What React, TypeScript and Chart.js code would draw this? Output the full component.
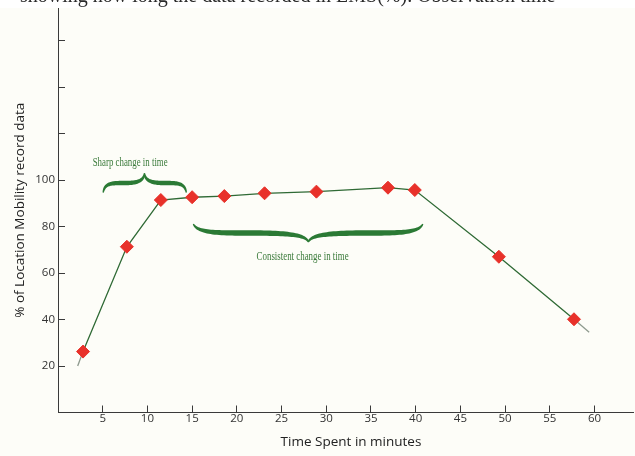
import React, { useEffect, useRef } from 'react';
import { Chart, registerables } from 'chart.js';

Chart.register(...registerables);

// ---- Data ----
const timeMinutes = [2.8, 7.7, 11.5, 15.0, 18.6, 23.1, 28.9, 36.9, 39.9, 49.3, 57.7];
const mobilityPct = [26.2, 71.3, 91.4, 92.6, 93.1, 94.3, 95.0, 96.7, 95.7, 67.0, 40.1];
const trendStart = { x: 2.2, y: 20 };
const trendEnd = { x: 59.4, y: 34.5 };

const xTickLabels = [5, 10, 15, 20, 25, 30, 35, 40, 45, 50, 55, 60];
const yTickLabels = [20, 40, 60, 80, 100];

const xTitle = 'Time Spent in minutes';
const yTitle = '% of Location Mobility record data';
const sharpText = 'Sharp change in time';
const consistentText = 'Consistent change in time';
const captionText = 'showing how long the data recorded in LMS(%). Observation time';

// annotation braces (data units)
const sharpBrace = { x1: 5.05, x2: 14.35, xMid: 9.67, yTip: 94.6, yArm: 98.7, yPeak: 102.9, label: sharpText, lx: 8.07, ly: 107.2, lw: 75 };
const consistentBrace = { x1: 15.13, x2: 40.8, xMid: 28.0, yTip: 81.1, yArm: 77.2, yPeak: 73.3, label: consistentText, lx: 27.35, ly: 66.9, lw: 92 };

const FONT = '"Open Sans", "Noto Sans", sans-serif';

function cubicPt(p0: number[], p1: number[], p2: number[], p3: number[], t: number) {
  const u = 1 - t;
  return [
    u * u * u * p0[0] + 3 * u * u * t * p1[0] + 3 * u * t * t * p2[0] + t * t * t * p3[0],
    u * u * u * p0[1] + 3 * u * u * t * p1[1] + 3 * u * t * t * p2[1] + t * t * t * p3[1],
  ];
}

function halfBrace(xTip: number, xm: number, yTip: number, yArm: number, yPeak: number) {
  const w = xm - xTip;
  const pts: number[][] = [];
  const mid = [xTip + 0.5 * w, yArm];
  const N = 30;
  for (let i = 0; i <= N; i++) {
    pts.push(cubicPt([xTip, yTip], [xTip + 0.04 * w, yArm], [xTip + 0.2 * w, yArm], mid, i / N));
  }
  for (let i = 1; i <= N; i++) {
    pts.push(cubicPt(mid, [xm - 0.2 * w, yArm], [xm - 0.02 * w, yArm + (yPeak - yArm) * 0.15], [xm, yPeak], i / N));
  }
  return pts;
}

function fillTapered(ctx: CanvasRenderingContext2D, pts: number[][], tMax: number, tMin: number) {
  const n = pts.length;
  const left: number[][] = [];
  const right: number[][] = [];
  for (let i = 0; i < n; i++) {
    const a = pts[Math.max(0, i - 1)];
    const b = pts[Math.min(n - 1, i + 1)];
    let dx = b[0] - a[0];
    let dy = b[1] - a[1];
    const len = Math.hypot(dx, dy) || 1;
    dx /= len; dy /= len;
    const s = i / (n - 1);
    const t = tMin + (tMax - tMin) * Math.pow(Math.sin(Math.PI * s), 0.8);
    left.push([pts[i][0] - dy * t / 2, pts[i][1] + dx * t / 2]);
    right.push([pts[i][0] + dy * t / 2, pts[i][1] - dx * t / 2]);
  }
  ctx.beginPath();
  ctx.moveTo(left[0][0], left[0][1]);
  for (let i = 1; i < n; i++) ctx.lineTo(left[i][0], left[i][1]);
  for (let i = n - 1; i >= 0; i--) ctx.lineTo(right[i][0], right[i][1]);
  ctx.closePath();
  ctx.fill();
}

function drawBrace(chart: any, b: any, tMax: number) {
  const { ctx, scales } = chart;
  const xs = scales.x;
  const ys = scales.y;
  const x1 = xs.getPixelForValue(b.x1);
  const x2 = xs.getPixelForValue(b.x2);
  const xm = xs.getPixelForValue(b.xMid);
  const yTip = ys.getPixelForValue(b.yTip);
  const yArm = ys.getPixelForValue(b.yArm);
  const yPeak = ys.getPixelForValue(b.yPeak);
  ctx.save();
  ctx.fillStyle = '#2b7a35';
  fillTapered(ctx, halfBrace(x1, xm, yTip, yArm, yPeak), tMax, 1.2);
  fillTapered(ctx, halfBrace(x2, xm, yTip, yArm, yPeak), tMax, 1.2);
  // label
  ctx.font = '12px "Liberation Serif", serif';
  ctx.fillStyle = '#3a7a3a';
  ctx.textAlign = 'center';
  ctx.textBaseline = 'middle';
  const m = ctx.measureText(b.label).width;
  ctx.translate(xs.getPixelForValue(b.lx), ys.getPixelForValue(b.ly));
  ctx.scale(b.lw / m, 1);
  ctx.fillText(b.label, 0, 0);
  ctx.restore();
}

const decorPlugin = {
  id: 'decor',
  beforeDraw(chart: any) {
    const { ctx, width, height } = chart;
    ctx.save();
    ctx.fillStyle = '#ffffff';
    ctx.fillRect(0, 0, width, height);
    ctx.fillStyle = '#fdfdf8';
    ctx.fillRect(0, 8, width, height - 8);
    // clipped caption from the page above the figure
    ctx.beginPath();
    ctx.rect(0, 0, width, 8);
    ctx.clip();
    ctx.fillStyle = '#2a2a2a';
    ctx.font = '20px "Liberation Serif", serif';
    ctx.textBaseline = 'alphabetic';
    ctx.textAlign = 'left';
    ctx.fillText(captionText, 20, 2);
    ctx.restore();
  },
  afterDraw(chart: any) {
    const { ctx, chartArea } = chart;
    drawBrace(chart, sharpBrace, 4.5);
    drawBrace(chart, consistentBrace, 5.5);
    // x-axis title
    ctx.save();
    ctx.font = `13.5px ${FONT}`;
    ctx.fillStyle = '#222222';
    ctx.textAlign = 'center';
    ctx.textBaseline = 'middle';
    ctx.fillText(xTitle, chartArea.left + 293, 442.5);
    ctx.restore();
  },
};

export default function App() {
  const ref = useRef<HTMLCanvasElement | null>(null);

  useEffect(() => {
    if (!ref.current) return;
    const points = timeMinutes.map((x, i) => ({ x, y: mobilityPct[i] }));
    const trend = [trendStart, ...points, trendEnd];
    const lastSeg = trend.length - 2;
    const chart = new Chart(ref.current, {
      type: 'scatter',
      data: {
        datasets: [
          {
            label: 'points',
            data: points,
            showLine: false,
            pointStyle: 'rectRot',
            pointRadius: 6.5,
            pointBackgroundColor: '#e8312a',
            pointBorderColor: '#e8312a',
            pointBorderWidth: 1,
            clip: false,
          } as any,
          {
            label: 'trend',
            data: trend,
            showLine: true,
            pointRadius: 0,
            borderColor: '#2f6a35',
            borderWidth: 1.3,
            segment: {
              borderColor: (c: any) => (c.p0DataIndex === 0 || c.p0DataIndex === lastSeg ? '#8e9a8e' : '#2f6a35'),
            },
          } as any,
        ],
      },
      options: {
        responsive: false,
        animation: false,
        devicePixelRatio: 1,
        layout: { autoPadding: false, padding: { top: 8, right: 2, left: 0, bottom: 0 } },
        plugins: { legend: { display: false }, tooltip: { enabled: false } },
        scales: {
          x: {
            type: 'linear',
            min: 0,
            max: 64.3,
            border: { display: true, color: '#3a3a3a', width: 1 },
            grid: { display: true, drawOnChartArea: false, drawTicks: true, tickLength: -7, color: '#3a3a3a', lineWidth: 1 },
            ticks: {
              stepSize: 5,
              includeBounds: false,
              autoSkip: false,
              maxRotation: 0,
              padding: 6,
              color: '#333333',
              font: { family: FONT, size: 11.5 },
              callback: (v: any) => (xTickLabels.includes(Number(v)) ? String(v) : ''),
            },
            title: { display: false, text: xTitle },
            afterFit: (s: any) => { s.height = 43.5; s.paddingLeft = 0; s.paddingRight = 0; s.paddingTop = 0; s.paddingBottom = 0; },
          },
          y: {
            type: 'linear',
            min: 0,
            max: 174,
            border: { display: true, color: '#3a3a3a', width: 1 },
            grid: { display: true, drawOnChartArea: false, drawTicks: true, tickLength: -7, color: '#3a3a3a', lineWidth: 1 },
            ticks: {
              stepSize: 20,
              includeBounds: false,
              autoSkip: false,
              padding: 10,
              color: '#333333',
              font: { family: FONT, size: 11.5 },
              callback: (v: any) => (yTickLabels.includes(Number(v)) ? String(v) : ''),
            },
            title: { display: true, text: yTitle, color: '#222222', font: { family: FONT, size: 13.5 }, padding: { top: 12, bottom: 0 } },
            afterFit: (s: any) => { s.width = 58; s.paddingLeft = 0; s.paddingRight = 0; s.paddingTop = 0; s.paddingBottom = 0; },
          },
        },
      },
      plugins: [decorPlugin],
    });
    return () => chart.destroy();
  }, []);

  return (
    <div style={{ position: 'absolute', left: 0, top: 0, width: 635, height: 456 }}>
      <canvas ref={ref} width={635} height={456} style={{ display: 'block' }} />
    </div>
  );
}
